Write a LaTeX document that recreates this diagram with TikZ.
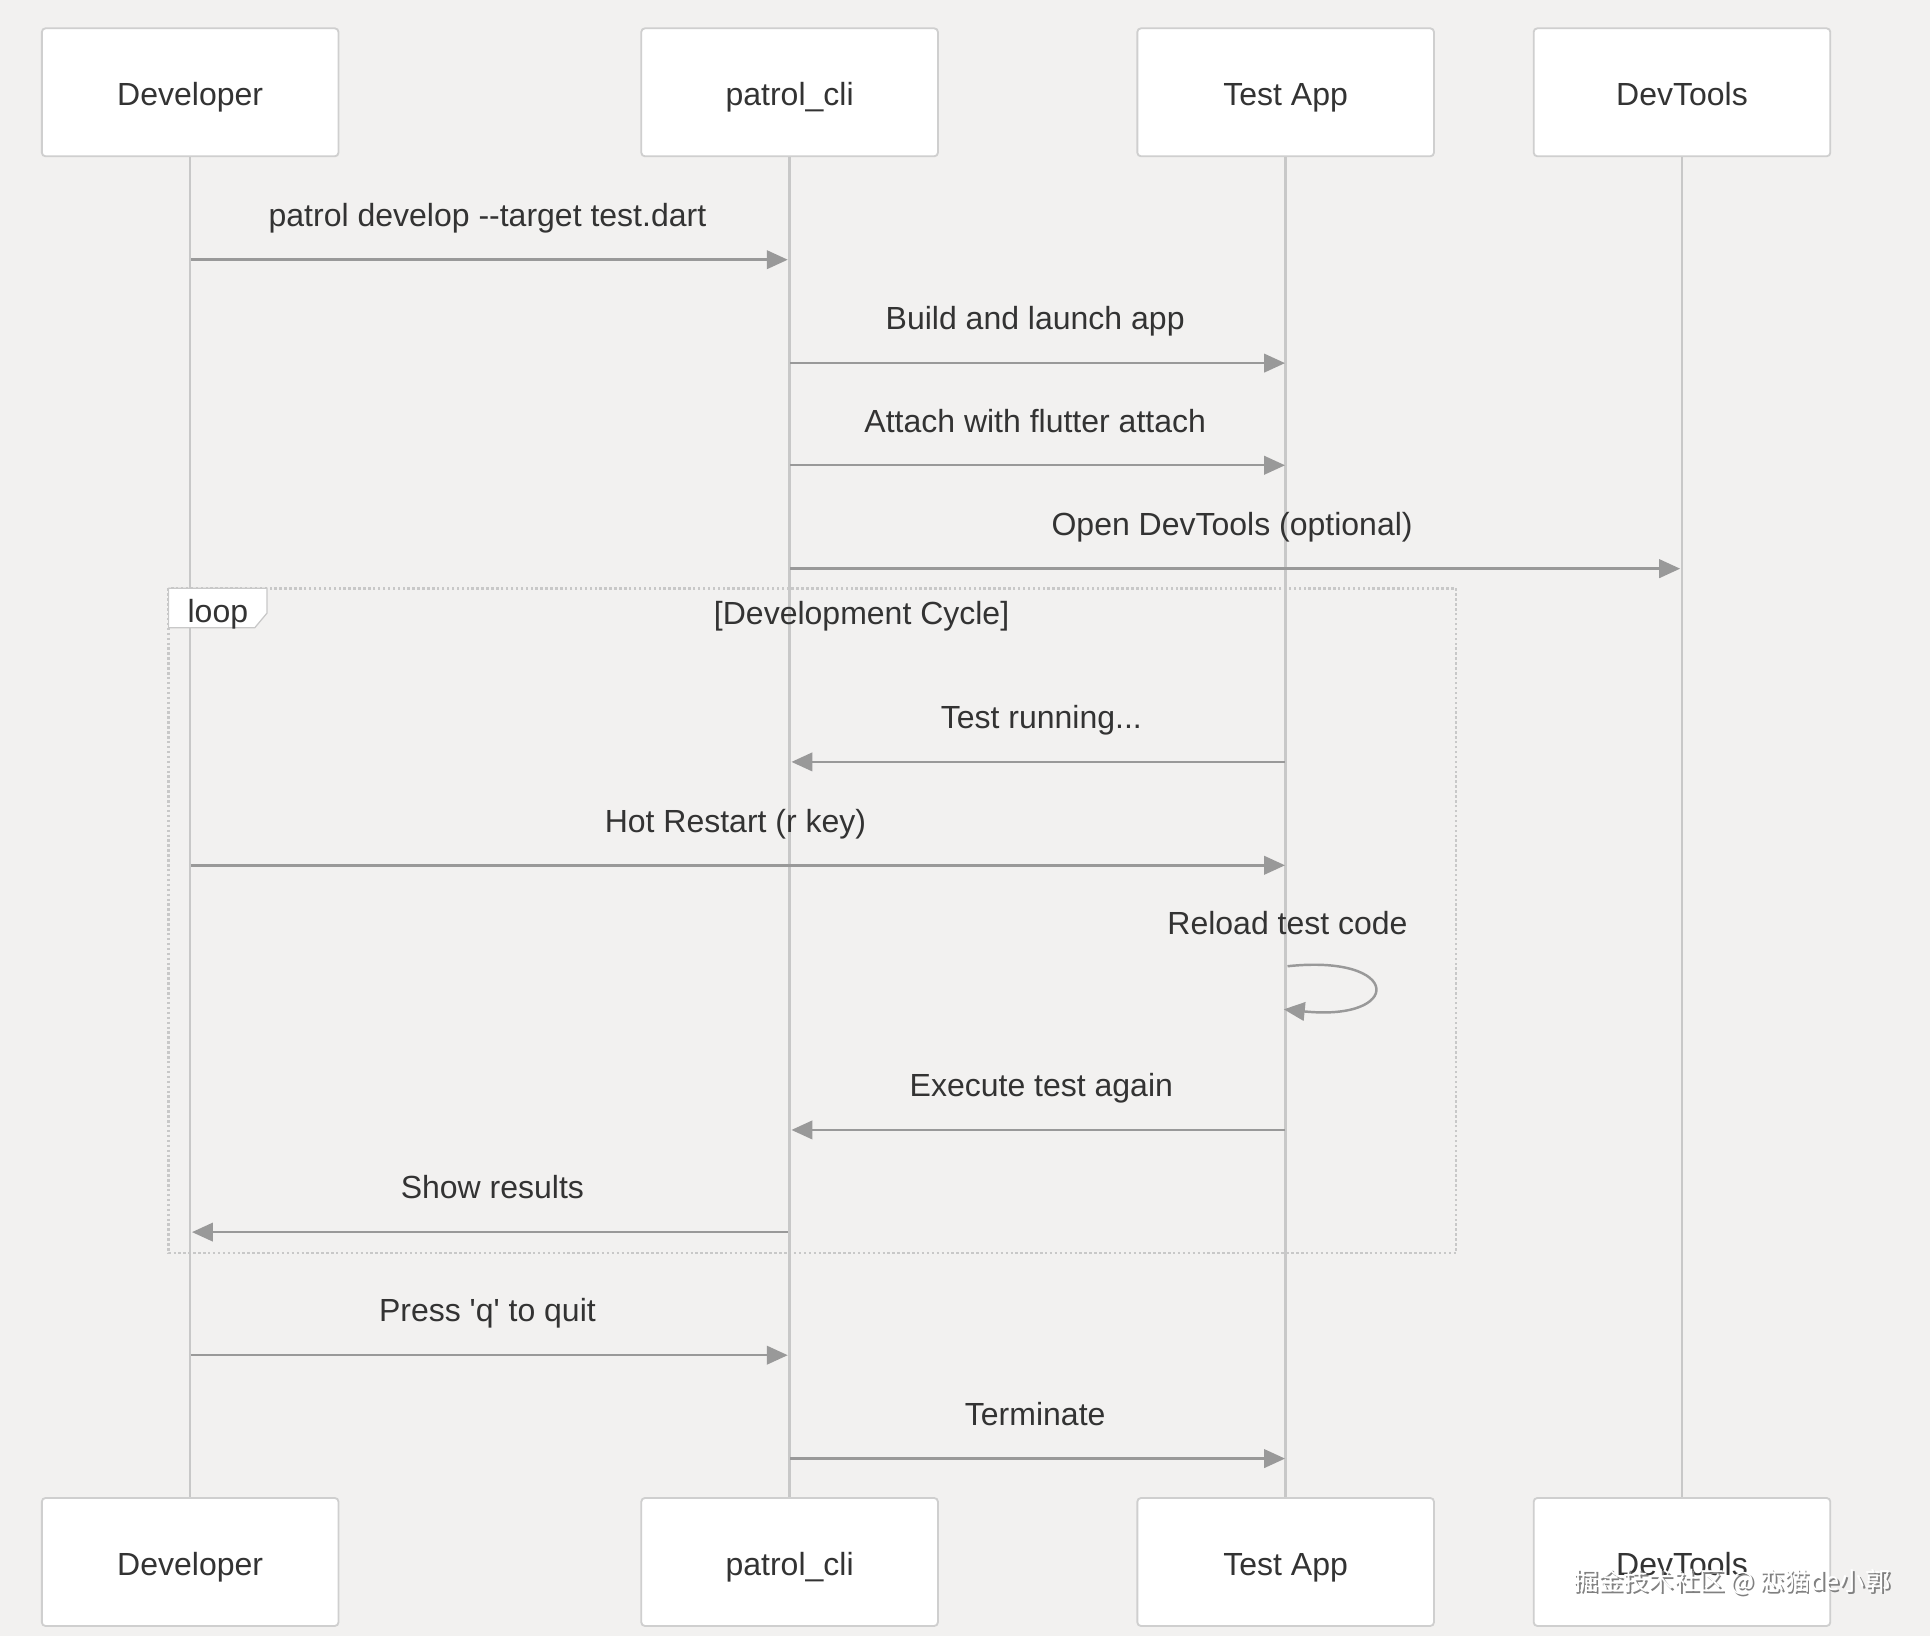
\documentclass[tikz,border=0pt]{standalone}
\usepackage{fontspec}
\setmainfont{Liberation Sans}[Ligatures=TeXOff]
\newfontfamily\cjkfont{Noto Sans CJK SC}
\usetikzlibrary{arrows.meta}
\definecolor{bgc}{HTML}{F2F1F0}
\definecolor{boxline}{HTML}{CFCFCF}
\definecolor{lifec}{HTML}{C8C8C8}
\definecolor{msgc}{HTML}{999999}
\definecolor{txtc}{HTML}{333333}
\definecolor{loopc}{HTML}{C8C8C8}
\begin{document}
\begin{tikzpicture}[x=1pt,y=-1pt,
  actor/.style={draw=boxline,line width=1.5pt,fill=white,rounded corners=3pt,
    minimum width=241pt,minimum height=104pt,inner sep=0pt,
    text height=26pt,text depth=4pt,
    font=\fontsize{26}{30}\selectfont,text=txtc},
  life/.style={draw=lifec,line width=2pt},
  msg/.style={draw=msgc,line width=2pt,-{Triangle[length=17pt,width=15pt]},shorten >=1pt},
  lbl/.style={font=\fontsize{26}{30}\selectfont,text=txtc,inner sep=0pt,anchor=base}]
\useasboundingbox (0,0) rectangle (1568,1329);
\fill[bgc] (0,0) rectangle (1568,1329);

% actors top
\node[actor] (devT) at (154.5,75) {Developer};
\node[actor] (cliT) at (641.5,75) {patrol\_cli};
\node[actor] (appT) at (1044.5,75) {Test App};
\node[actor] (dtT) at (1366.5,75) {DevTools};
% actors bottom
\node[actor] (devB) at (154.5,1269) {Developer};
\node[actor] (cliB) at (641.5,1269) {patrol\_cli};
\node[actor] (appB) at (1044.5,1269) {Test App};
\node[actor] (dtB) at (1366.5,1269) {DevTools};

% lifelines
\draw[life] (devT.south) -- (devB.north);
\draw[life] (cliT.south) -- (cliB.north);
\draw[life] (appT.south) -- (appB.north);
\draw[life] (dtT.south) -- (dtB.north);

% loop frame
\draw[draw=loopc,line width=2pt,dotted] (137,478) rectangle (1183,1018);
\draw[draw=loopc,line width=1pt,fill=white] (137,478) -- (217,478) -- (217,498) -- (207,510) -- (137,510) -- cycle;
\node[lbl] (looplbl) at (177,506) {loop};
\node[lbl] (loopcond) at (700,507) {[Development Cycle]};

% messages
\coordinate (m1a) at (155,211); \coordinate (m1b) at (641,211);
\draw[msg] (m1a) -- (m1b);
\node[lbl] (t1) at (396,184) {patrol develop --target test.dart};

\coordinate (m2a) at (642,295); \coordinate (m2b) at (1045,295);
\draw[msg] (m2a) -- (m2b);
\node[lbl] (t2) at (841,268) {Build and launch app};

\coordinate (m3a) at (642,378); \coordinate (m3b) at (1045,378);
\draw[msg] (m3a) -- (m3b);
\node[lbl] (t3) at (841,351) {Attach with flutter attach};

\coordinate (m4a) at (642,462); \coordinate (m4b) at (1366,462);
\draw[msg] (m4a) -- (m4b);
\node[lbl] (t4) at (1001,435) {Open DevTools (optional)};

\coordinate (m5a) at (1044,619); \coordinate (m5b) at (642,619);
\draw[msg] (m5a) -- (m5b);
\node[lbl] (t5) at (846,592) {Test running...};

\coordinate (m6a) at (155,703); \coordinate (m6b) at (1045,703);
\draw[msg] (m6a) -- (m6b);
\node[lbl] (t6) at (597.5,676) {Hot Restart (r key)};

\coordinate (m7a) at (1046,785); \coordinate (m7b) at (1043,820);
\draw[msg,shorten >=0pt] (m7a) .. controls (1140,775) and (1140,830) .. (m7b);
\node[lbl] (t7) at (1046,759) {Reload test code};

\coordinate (m8a) at (1044,918); \coordinate (m8b) at (642,918);
\draw[msg] (m8a) -- (m8b);
\node[lbl] (t8) at (846,891) {Execute test again};

\coordinate (m9a) at (640,1001); \coordinate (m9b) at (155,1001);
\draw[msg] (m9a) -- (m9b);
\node[lbl] (t9) at (400,974) {Show results};

\coordinate (m10a) at (155,1101); \coordinate (m10b) at (641,1101);
\draw[msg] (m10a) -- (m10b);
\node[lbl] (t10) at (396,1074) {Press 'q' to quit};

\coordinate (m11a) at (642,1185); \coordinate (m11b) at (1045,1185);
\draw[msg] (m11a) -- (m11b);
\node[lbl] (t11) at (841,1158) {Terminate};

% watermark
\node[font=\cjkfont\fontsize{20.5}{24}\selectfont,text=gray,inner sep=0pt] (wmS) at (1408.5,1286.5) {掘金技术社区 @ 恋猫de小郭};
\node[font=\cjkfont\fontsize{20.5}{24}\selectfont,text=white,inner sep=0pt] (wm) at (1407,1285) {掘金技术社区 @ 恋猫de小郭};
\end{tikzpicture}
\end{document}
